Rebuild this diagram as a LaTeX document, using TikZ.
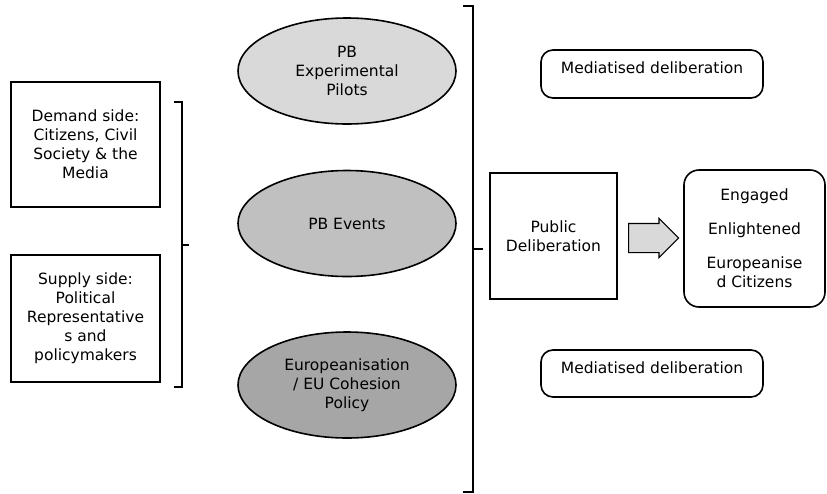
\documentclass[tikz,border=0pt]{standalone}
\usepackage{fontspec}
\setmainfont{DejaVu Sans}
\usepackage{tikz}
\usetikzlibrary{shapes}
\usetikzlibrary{shapes.arrows}
\definecolor{lightgrey}{HTML}{D9D9D9}
\definecolor{midgrey}{HTML}{C0C0C0}
\definecolor{darkgrey}{HTML}{A6A6A6}
\tikzset{
  sidebox/.style={draw, line width=1.6pt, rectangle, minimum width=149pt, align=center, inner sep=0pt},
  oval/.style={draw, line width=1.6pt, ellipse, minimum width=218pt, minimum height=106pt, align=center, inner sep=0pt},
  roundbox/.style={draw, line width=1.6pt, rectangle, rounded corners=12pt, align=center, inner sep=0pt},
}
\newcommand{\bracketline}[6]{\draw[line width=1.6pt] ( #1 - #5 , #2 ) -- ( #1 , #2 ) -- ( #1 , #3 ) -- ( #1 - #5 , #3 ); \draw[line width=1.6pt] ( #1 , #4 ) -- ( #1 + #6 , #4 );}
\begin{document}
\begin{tikzpicture}[x=1pt,y=-1pt,font=\fontsize{15.5}{19}\selectfont]

        \useasboundingbox (0,0) rectangle (827,493);

        % actors
        \node[sidebox, minimum height=125pt] (demand) at (85.5,144.5) {Demand side:\\Citizens, Civil\\Society \& the\\Media};
        \node[sidebox, minimum height=127pt] (supply) at (85.5,318.5) {Supply side:\\Political\\Representative\\s and\\policymakers};

        \bracketline{182}{102}{387}{245}{8}{7}

        % inputs
        \node[oval, fill=lightgrey] (pilots) at (347,71) {PB\\Experimental\\Pilots};
        \node[oval, fill=midgrey] (events) at (347,223.5) {PB Events};
        \node[oval, fill=darkgrey] (policy) at (347,385) {Europeanisation\\/ EU Cohesion\\Policy};

        \bracketline{473}{6}{492}{249}{10}{10}

        % outputs
        \node[roundbox, minimum width=222pt, minimum height=48pt, text height=11pt, text depth=12pt] (media1) at (652,74) {Mediatised deliberation};
        \node[roundbox, minimum width=222pt, minimum height=47pt, text height=11pt, text depth=12pt] (media2) at (652,373.5) {Mediatised deliberation};

        \node[sidebox, minimum width=127pt, minimum height=126pt] (pubdelib) at (553.5,236) {Public\\Deliberation};
        \node[roundbox, rounded corners=15pt, minimum width=141pt, minimum height=137pt] (citizens) at (754.5,238.5) {Engaged\\[15pt]Enlightened\\[15pt]Europeanise\\d Citizens};

        \node[draw, line width=1.2pt, fill=lightgrey, single arrow, single arrow head extend=5pt, minimum height=50pt, text height=14pt, text depth=14pt, inner sep=0pt, anchor=tail] (arr) at (628,238) {};

    \end{tikzpicture}
\end{document}
